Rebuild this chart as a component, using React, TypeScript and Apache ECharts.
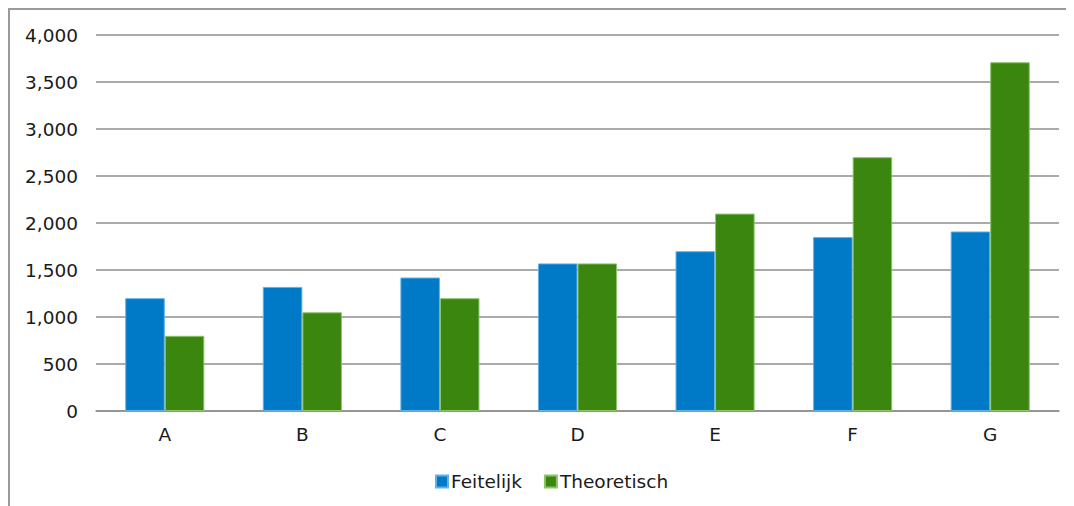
import React, { useEffect, useRef } from "react";
import * as echarts from "echarts";

const categories = ["A", "B", "C", "D", "E", "F", "G"];
const feitelijk = [1200, 1320, 1420, 1570, 1700, 1850, 1910];
const theoretisch = [800, 1050, 1200, 1570, 2100, 2700, 3710];
const seriesNames = ["Feitelijk", "Theoretisch"];

const FONT = "'DejaVu Sans', Verdana, sans-serif";

export default function App() {
  const ref = useRef<HTMLDivElement>(null);
  useEffect(() => {
    if (!ref.current) return;
    const chart = echarts.init(ref.current, undefined, { renderer: "svg" });
    chart.setOption({
      animation: false,
      textStyle: { fontFamily: FONT },
      grid: { left: 86, right: 15, top: 25, bottom: 95, containLabel: false },
      legend: {
        data: seriesNames,
        left: 420,
        top: 457,
        itemWidth: 12,
        itemHeight: 12,
        itemGap: 22,
        icon: "rect",
        textStyle: { fontFamily: FONT, fontSize: 18.5, color: "#1a1a1a", padding: [0, 0, 0, -2] },
      },
      xAxis: {
        type: "category",
        data: categories,
        axisLine: { show: true, lineStyle: { color: "#8e8e8e", width: 1.5 } },
        axisTick: { show: false },
        axisLabel: { fontFamily: FONT, fontSize: 18.5, color: "#1a1a1a", margin: 14 },
      },
      yAxis: {
        type: "value",
        min: 0,
        max: 4000,
        interval: 500,
        axisLine: { show: false },
        axisTick: { show: false },
        axisLabel: {
          fontFamily: FONT,
          fontSize: 18.5,
          color: "#1a1a1a",
          margin: 18,
          formatter: (v: number) => v.toLocaleString("en-US"),
        },
        splitLine: { show: true, lineStyle: { color: "#8e8e8e", width: 1.5 } },
      },
      series: [
        {
          name: seriesNames[0],
          type: "bar",
          data: feitelijk,
          barGap: "0%",
          barCategoryGap: "42.5%",
          itemStyle: { color: "#0079c6", borderColor: "#62b0e4", borderWidth: 1 },
        },
        {
          name: seriesNames[1],
          type: "bar",
          data: theoretisch,
          barGap: "0%",
          barCategoryGap: "42.5%",
          itemStyle: { color: "#3a860f", borderColor: "#8cc46a", borderWidth: 1 },
        },
      ],
    });
    return () => chart.dispose();
  }, []);

  return (
    <div
      style={{
        width: 1066,
        height: 498,
        borderTop: "2px solid #9a9a9a",
        borderLeft: "2px solid #9a9a9a",
        boxSizing: "border-box",
        background: "#fff",
      }}
    >
      <div ref={ref} style={{ width: 1064, height: 496 }} />
    </div>
  );
}
